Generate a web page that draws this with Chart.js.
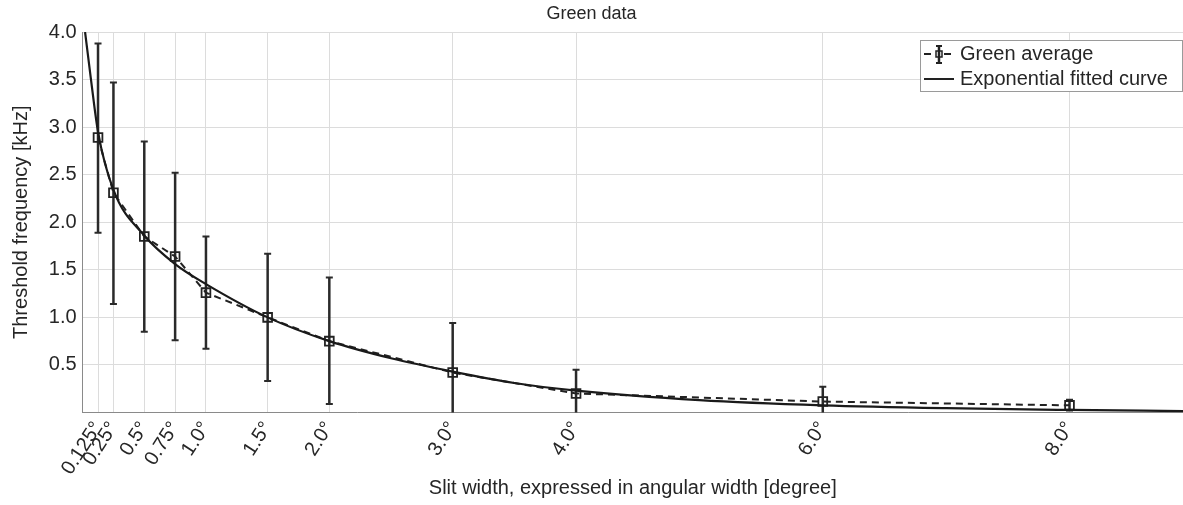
<!DOCTYPE html>
<html>
<head>
<meta charset="utf-8">
<script src="https://cdn.jsdelivr.net/npm/chart.js@4.4.1/dist/chart.umd.min.js"></script>
<style>
  html, body { margin: 0; padding: 0; background: #fff; overflow: hidden; }
  #wrap { position: relative; width: 1183px; height: 505px; }
</style>
</head>
<body>
<div id="wrap"><canvas id="green-chart"></canvas></div>
<script>
/* ---- data ---- */
var slitWidths  = [0.125, 0.25, 0.5, 0.75, 1.0, 1.5, 2.0, 3.0, 4.0, 6.0, 8.0];
var tickLabels  = ["0.125°", "0.25°", "0.5°", "0.75°", "1.0°", "1.5°", "2.0°", "3.0°", "4.0°", "6.0°", "8.0°"];
var greenMean   = [2.89, 2.31, 1.85, 1.64, 1.26, 1.00, 0.75, 0.42, 0.20, 0.115, 0.075];
var greenUpper  = [3.88, 3.47, 2.85, 2.52, 1.85, 1.67, 1.42, 0.94, 0.45, 0.27, 0.135];
var greenLower  = [1.89, 1.14, 0.85, 0.76, 0.67, 0.33, 0.09, -0.10, -0.05, -0.04, 0.02];

var fitX = [0.02, 0.068, 0.125, 0.25, 0.5, 0.75, 1.0, 1.5, 2.0, 2.5, 3.0, 3.5, 4.0, 5.0, 6.0, 7.0, 8.0, 8.92];
var fitY = [4.00, 3.50, 2.95, 2.34, 1.86, 1.56, 1.35, 1.00, 0.75, 0.57, 0.43, 0.31, 0.23, 0.13, 0.075, 0.045, 0.027, 0.015];

var yTicks = [0, 0.5, 1.0, 1.5, 2.0, 2.5, 3.0, 3.5, 4.0];

var textColor = "#262626";
var fontName  = "'Liberation Sans', Arial, sans-serif";

function pairs(xs, ys) {
  return xs.map(function (x, i) { return { x: x, y: ys[i] }; });
}

/* ---- error bars, drawn under the markers ---- */
var errorBarPlugin = {
  id: "errorBars",
  beforeDatasetsDraw: function (chart) {
    var ctx = chart.ctx;
    var area = chart.chartArea;
    var xs = chart.scales.x;
    var ys = chart.scales.y;
    ctx.save();
    ctx.beginPath();
    ctx.rect(area.left, area.top, area.right - area.left, area.bottom - area.top);
    ctx.clip();
    ctx.strokeStyle = "#2a2a2a";
    ctx.lineWidth = 2.5;
    for (var i = 0; i < slitWidths.length; i++) {
      var px = xs.getPixelForValue(slitWidths[i]);
      var top = ys.getPixelForValue(greenUpper[i]);
      var bot = ys.getPixelForValue(greenLower[i]);
      ctx.beginPath();
      ctx.moveTo(px, top); ctx.lineTo(px, bot);
      ctx.stroke();
      ctx.lineWidth = 2;
      ctx.beginPath();
      ctx.moveTo(px - 3.5, top); ctx.lineTo(px + 3.5, top);
      ctx.moveTo(px - 3.5, bot); ctx.lineTo(px + 3.5, bot);
      ctx.stroke();
      ctx.lineWidth = 2.5;
    }
    ctx.restore();
  }
};

/* ---- boxed legend in the top right corner ---- */
var boxLegendPlugin = {
  id: "boxLegend",
  afterDraw: function (chart) {
    var ctx = chart.ctx;
    var x0 = 920.5, y0 = 40.5, w = 262, h = 51;
    ctx.save();
    ctx.fillStyle = "#fff";
    ctx.fillRect(x0, y0, w, h);
    ctx.strokeStyle = "#9a9a9a";
    ctx.lineWidth = 1;
    ctx.strokeRect(x0, y0, w, h);

    // dashed line + error bar symbol
    ctx.strokeStyle = "#222";
    ctx.lineWidth = 2;
    ctx.beginPath();
    ctx.moveTo(924, 54); ctx.lineTo(931, 54);
    ctx.moveTo(944, 54); ctx.lineTo(951, 54);
    ctx.stroke();
    ctx.lineWidth = 2.5;
    ctx.beginPath();
    ctx.moveTo(939, 46); ctx.lineTo(939, 63);
    ctx.stroke();
    ctx.lineWidth = 2;
    ctx.beginPath();
    ctx.moveTo(936, 46); ctx.lineTo(942, 46);
    ctx.moveTo(936, 63); ctx.lineTo(942, 63);
    ctx.stroke();
    ctx.lineWidth = 1.5;
    ctx.strokeRect(936, 51, 6, 6);

    // solid line symbol
    ctx.lineWidth = 2;
    ctx.beginPath();
    ctx.moveTo(924, 79); ctx.lineTo(954, 79);
    ctx.stroke();

    ctx.fillStyle = textColor;
    ctx.font = "20px " + fontName;
    ctx.textBaseline = "middle";
    ctx.fillText("Green average", 960, 54);
    ctx.fillText("Exponential fitted curve", 960, 79);
    ctx.restore();
  }
};

var ctx = document.getElementById("green-chart").getContext("2d");

var greenChart = new Chart(ctx, {
  type: "line",
  data: {
    datasets: [
      {
        label: "Green average",
        data: pairs(slitWidths, greenMean),
        borderColor: "#222",
        borderWidth: 2,
        borderDash: [7, 5],
        fill: false,
        tension: 0,
        pointStyle: "rect",
        pointRadius: 6.2,
        pointBorderWidth: 1.8,
        pointBorderColor: "#222",
        pointBackgroundColor: "rgba(255,255,255,0)",
        order: 2
      },
      {
        label: "Exponential fitted curve",
        data: pairs(fitX, fitY),
        borderColor: "#1a1a1a",
        borderWidth: 2.2,
        fill: false,
        cubicInterpolationMode: "monotone",
        pointRadius: 0,
        order: 1
      }
    ]
  },
  options: {
    responsive: true,
    maintainAspectRatio: false,
    animation: false,
    layout: { autoPadding: false, padding: 0 },
    plugins: {
      legend: { display: false },
      tooltip: { enabled: false },
      title: {
        display: true,
        text: "Green data",
        color: textColor,
        font: { family: fontName, size: 18, weight: "normal" },
        padding: { top: 3, bottom: 7.4 }
      }
    },
    scales: {
      x: {
        type: "linear",
        min: 0,
        max: 8.92,
        afterBuildTicks: function (scale) {
          scale.ticks = slitWidths.map(function (v) { return { value: v }; });
        },
        afterFit: function (scale) {
          scale.height = 92.5;
          scale.paddingLeft = 0;
          scale.paddingRight = 0;
        },
        grid: { color: "#dcdcdc", drawTicks: false },
        border: { color: "#8a8a8a", width: 1 },
        ticks: {
          color: textColor,
          font: { family: fontName, size: 20 },
          minRotation: 57,
          maxRotation: 57,
          padding: 5,
          autoSkip: false,
          callback: function (value) {
            var i = slitWidths.indexOf(value);
            return i >= 0 ? tickLabels[i] : "";
          }
        },
        title: {
          display: true,
          text: "Slit width, expressed in angular width [degree]",
          color: textColor,
          font: { family: fontName, size: 20 },
          padding: { top: 0, bottom: 5 }
        }
      },
      y: {
        min: 0,
        max: 4.0,
        afterBuildTicks: function (scale) {
          scale.ticks = yTicks.map(function (v) { return { value: v }; });
        },
        afterFit: function (scale) { scale.width = 82.6; },
        grid: { color: "#dcdcdc", drawTicks: false },
        border: { color: "#8a8a8a", width: 1 },
        ticks: {
          color: textColor,
          font: { family: fontName, size: 20 },
          padding: 6,
          callback: function (value) {
            return value === 0 ? "" : value.toFixed(1);
          }
        },
        title: {
          display: true,
          text: "Threshold frequency [kHz]",
          color: textColor,
          font: { family: fontName, size: 20 },
          padding: { top: 9, bottom: 4 }
        }
      }
    }
  },
  plugins: [errorBarPlugin, boxLegendPlugin]
});
</script>
</body>
</html>
